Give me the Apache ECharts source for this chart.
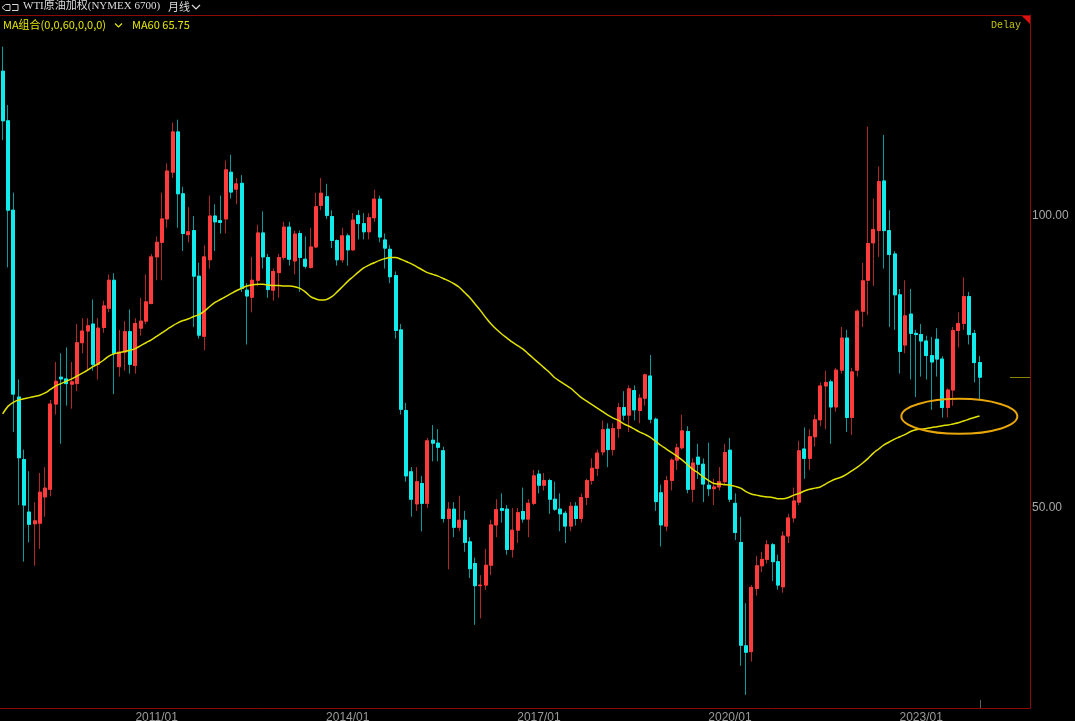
<!DOCTYPE html>
<html><head><meta charset="utf-8">
<script src="https://cdn.jsdelivr.net/npm/echarts@6/dist/echarts.min.js"></script>
<style>html,body{margin:0;padding:0;background:#000;overflow:hidden}#c{width:1075px;height:721px}</style>
</head><body><div id="c"></div>
<script>
// ---- category setup (monthly, first visible month 2008/08; empty slots to the right) ----
const startYear = 2008, startMonth = 8, totalSlots = 194;
const xTickLabels = ['2011/01','2014/01','2017/01','2020/01','2023/01'];
const yTickValues = [50, 100];

// ---- monthly OHLC, 2008/08 .. 2023/12 ----
const open = [
124.8,116.3,101.0,69.0,58.3,
49.3,47.3,47.4,51.9,53.2,67.8,72.4,72.1,71.2,71.3,78.3,80.3,
81.5,74.6,80.9,84.2,89.0,74.2,76.7,80.2,74.4,80.8,82.0,85.0,
93.0,95.5,99.5,107.5,114.4,103.8,96.8,97.5,89.7,79.4,92.5,100.0,
99.2,99.5,107.5,104.6,105.6,87.3,86.1,89.0,97.1,92.9,87.3,90.3,
92.9,98.1,92.3,97.0,92.6,91.2,94.7,101.8,103.3,99.9,95.8,92.5,
96.6,94.2,100.1,98.7,97.3,99.7,102.9,95.9,94.3,89.8,80.5,66.7,
56.2,50.7,54.2,50.8,61.6,61.1,59.8,48.2,49.8,46.7,47.9,44.2,
40.5,36.7,36.8,40.2,47.1,49.9,49.8,42.9,46.2,49.4,48.1,50.8,
55.8,53.9,54.7,51.5,49.8,49.1,46.9,50.3,48.2,51.8,54.7,56.8,
59.6,63.5,60.0,63.6,67.2,65.9,70.1,66.7,68.8,72.6,65.2,52.6,
46.9,54.7,58.2,60.3,63.1,53.2,58.7,57.5,53.9,53.3,53.6,54.5,
59.9,50.8,44.1,26.4,25.4,36.2,40.1,41.2,43.7,40.8,36.5,45.2,
48.3,51.0,60.1,58.5,62.2,65.1,70.9,71.6,67.3,73.6,79.1,65.5,
73.6,83.7,89.0,95.4,97.5,106.0,97.5,93.5,86.5,77.9,83.2,79.9,
79.7,78.6,76.1,78.9,75.5,67.2,70.2,80.4,81.6,86.2,79.9,74.9
];
const close = [
116.3,101.0,69.5,58.6,50.5,
47.2,47.8,52.7,53.4,67.8,71.7,72.1,71.3,71.6,78.3,80.3,81.2,
74.6,80.8,84.6,89.0,76.5,76.7,80.2,74.6,81.6,82.0,85.3,93.0,
95.5,99.5,107.7,114.4,103.8,97.0,97.3,89.7,79.6,93.0,100.0,99.0,
98.9,107.9,104.1,105.5,87.6,86.3,89.0,97.1,93.0,87.4,90.5,92.9,
98.1,92.6,96.9,92.9,91.4,94.7,101.6,103.9,100.1,95.8,92.5,96.6,
94.2,99.3,98.7,97.3,99.7,102.9,96.4,94.5,89.6,80.4,66.9,55.5,
51.5,54.5,50.8,61.5,61.1,60.4,48.2,49.8,46.7,47.9,44.1,39.6,
36.7,36.8,40.2,47.1,49.7,49.6,42.9,46.2,49.2,48.1,50.8,55.5,
53.9,54.7,51.5,49.8,49.0,46.9,50.3,48.2,51.8,54.7,56.8,59.4,
63.4,60.0,63.6,67.2,65.9,70.4,66.8,68.8,72.8,65.2,51.1,47.1,
54.7,58.2,60.3,63.2,53.2,57.7,57.5,54.1,53.3,53.6,54.5,59.5,
51.5,45.8,26.5,25.3,36.4,40.1,41.2,43.7,40.8,36.8,45.2,48.3,
51.2,59.8,58.5,62.2,65.1,70.9,71.5,67.3,73.6,79.1,65.5,73.3,
83.7,88.9,95.3,97.7,105.9,97.5,93.4,86.5,76.8,82.9,79.9,79.7,
78.6,76.1,75.0,75.5,67.2,70.2,80.4,81.6,86.2,79.7,74.9,72.4
];
const high = [
129,119,104,72,60,
56.3,51,56,57,68.5,75,76.5,77.5,75,81.5,82.5,82.5,
85.7,82.5,85.5,90,90.2,80.5,82,84,82.5,86,90,93.5,
96.5,104,109,116,116.5,105,101.5,100,92,95,103.5,102,
103.5,109.5,110.5,106.5,107,88.5,93,98.5,100.8,93.5,91,93.5,
99,99,97.5,97.5,96.5,98,104,106.5,105.5,101,96,98,
97,100.5,101,100.5,100.5,104.5,103.5,97,95,90.5,81.5,68,
57,57,55.5,62,64.2,63.5,60.5,51,51,52.1,49.5,45,
41.5,38.5,43,48,51.5,52.5,50.5,50,50,53.5,51.5,56.5,
56.5,56,55,54.5,52.5,49.5,51,51,52.5,55,58.5,60,
65,64.5,64.5,68,70,71,71,69.5,73,76.2,65.5,54,
55.5,58.5,61,66,64,58.5,61,58.5,61.2,55,57,61,
62,52.5,48.5,33.7,36.8,41.8,42.5,44.5,44,42,46,49,
53.5,61.5,63.8,63.5,66,71.5,73.5,72,74,81,80.5,74,
84,92,115.3,103,108.5,113.9,101,94,87.5,89,87.5,80.5,
81.5,79.5,79.3,80.8,76,70.5,81,83.5,89.5,87,80.5,76
];
const low = [
113,91.2,63,50.5,40.8,
44.1,40.1,43,48.5,52,66,61,67.5,67,70,76.5,73.5,
73.5,72,80,83.5,69.5,72.5,73.5,73,73,79.5,81.5,85,
89,89,98,106.5,98,94,95.5,81,79,77,91,94,
97,97,103,102,87,78,83.5,88,91,86,85.5,86,
92.5,91.5,90,87,91,91,94.5,101,99.5,94.5,91.5,92,
91.5,94,96,96,96,99,95.5,91,88.5,79,66,54.5,
48.5,49.5,46,50,58,58,47.5,39.5,45,46,42.5,38,
30,31.1,36,38.5,45,47.5,42,41.5,44,47.5,45,50.5,
52.5,53,49,49.5,46,44,46,47,47.5,50.5,54,55.5,
59,57,59,62,65,63,65,64.5,67.5,64.5,49.5,43.4,
46,53,56.5,60,52.5,51,55,51,52,50.5,53,54,
51,44.5,23,18,23.7,35,39,40.5,37.5,36,35.5,44,
47.5,50.5,55,56.5,60.5,64,63.5,61,66.5,73,63,62.5,
72.5,81,83,88,93,91,81,80.5,73,76.5,72,69,
72.5,72,66.8,72.5,65.5,65.5,67.5,77.5,80.5,78,71.5,68.5
];
// ---- MA60 as drawn ----
const ma60 = [
66.1,67.4,68.1,68.5,68.7,
68.9,69.1,69.3,69.7,70.3,70.9,71.3,71.7,72.1,72.6,73.1,73.6,
74.2,74.7,75.3,76.0,76.4,76.6,76.8,77.0,77.3,77.8,78.3,78.8,
79.4,80.0,80.6,81.2,81.7,82.1,82.4,82.8,83.1,83.7,84.5,85.2,
85.7,86.2,86.7,87.2,87.6,88.0,88.2,88.3,88.3,88.2,88.1,88.1,
88.0,88.0,87.9,87.6,87.0,86.2,85.8,85.6,85.7,86.2,87.0,87.9,
88.8,89.6,90.4,91.1,91.6,92.0,92.4,92.7,92.9,92.9,92.6,92.2,
91.8,91.3,90.8,90.3,90.0,89.7,89.3,88.9,88.4,87.8,86.9,86.0,
84.9,83.8,82.6,81.5,80.6,79.8,79.1,78.4,77.8,77.2,76.4,75.6,
74.8,74.0,73.2,72.3,71.7,71.1,70.5,69.7,68.9,68.3,67.7,67.1,
66.5,65.9,65.4,65.0,64.4,64.0,63.5,63.0,62.6,62.1,61.4,60.7,
60.1,59.5,58.9,58.2,57.4,56.6,56.0,55.3,54.7,54.2,54.1,54.0,
53.9,53.7,53.4,52.8,52.4,52.2,52.0,51.9,51.8,51.6,51.6,51.8,
52.2,52.5,52.9,53.2,53.4,53.6,54.1,54.6,55.0,55.3,55.8,56.4,
57.0,57.7,58.5,59.4,60.1,60.8,61.3,61.8,62.2,62.6,63.1,63.4,
63.5,63.6,63.8,63.9,64.1,64.2,64.4,64.6,64.9,65.2,65.5,65.75
];
const highlight = {month: '2023/08', price: 65.7};

// ---- build ----
const categories = [];
for (let i = 0; i < totalSlots; i++) {
  const t = startYear * 12 + (startMonth - 1) + i;
  categories.push(Math.floor(t / 12) + '/' + String(t % 12 + 1).padStart(2, '0'));
}
const fullK = open.map((o, i) => [o, close[i], low[i], high[i]]);
const bodyK = open.map((o, i) => [o, close[i], Math.min(o, close[i]), Math.max(o, close[i])]);

const RED = '#ff3b3b', CYAN = '#10ecec', WRED = '#b02828', WCYAN = '#0c9a9a', BORDER = '#8c0a0a';

const chart = echarts.init(document.getElementById('c'), null, {renderer: 'canvas'});
chart.setOption({
  backgroundColor: '#000',
  animation: false,
  grid: {left: 0, right: 45, top: 15, bottom: 13, containLabel: false, outerBoundsMode: 'none'},
  xAxis: [{
    type: 'category', data: categories, boundaryGap: true, position: 'bottom',
    axisLine: {show: true, lineStyle: {color: BORDER, width: 1}},
    axisTick: {show: false},
    axisLabel: {
      interval: (idx, val) => xTickLabels.indexOf(val) >= 0,
      color: '#9a9a9a', fontSize: 12, fontFamily: 'Liberation Sans, Arial, sans-serif', margin: 4
    },
    splitLine: {show: false}
  }, {
    type: 'category', data: categories, position: 'top',
    axisLine: {show: true, lineStyle: {color: BORDER, width: 1}},
    axisTick: {show: false}, axisLabel: {show: false}, splitLine: {show: false}
  }],
  yAxis: {
    type: 'value', position: 'right', min: 15.75, max: 134.42, scale: true,
    axisLine: {show: true, lineStyle: {color: BORDER, width: 1}},
    axisTick: {show: false},
    splitLine: {show: false},
    axisLabel: {
      customValues: yTickValues,
      formatter: v => v.toFixed(2),
      color: '#a8a8a8', fontSize: 12, fontFamily: 'Liberation Sans, Arial, sans-serif', margin: 2,
      padding: [4, 0, 0, 0]
    }
  },
  series: [{
    name: 'wick', type: 'candlestick', data: fullK, barWidth: 3.5, silent: true,
    itemStyle: {color: WRED, color0: WCYAN, borderColor: WRED, borderColor0: WCYAN, borderWidth: 1}
  }, {
    name: 'body', type: 'candlestick', data: bodyK, barWidth: 3.5, silent: true,
    itemStyle: {color: RED, color0: CYAN, borderColor: RED, borderColor0: CYAN, borderWidth: 1}
  }, {
    name: 'MA60', type: 'line', data: ma60, symbol: 'none', smooth: 0.4, silent: true,
    lineStyle: {color: '#e2e200', width: 1.5}, z: 5
  }]
});

const ex = chart.convertToPixel({xAxisIndex: 0}, highlight.month) + 1;
const ey = chart.convertToPixel({yAxisIndex: 0}, highlight.price);
const lastX = chart.convertToPixel({xAxisIndex: 0}, categories[close.length - 1]);
const lastY = chart.convertToPixel({yAxisIndex: 0}, close[close.length - 1]);
const plotRight = 1075 - 45, plotTop = 15, plotBottom = 721 - 13;

chart.setOption({graphic: [
  // link icon
  {type: 'polygon', shape: {points: [[2, 7.5], [5.5, 4.5], [10, 4.5], [10, 10.5], [5.5, 10.5]]}, style: {fill: 'none', stroke: '#d8d8d8', lineWidth: 1}},
  {type: 'polyline', shape: {points: [[12, 4.5], [18, 4.5], [18, 10.5], [12, 10.5]]}, style: {stroke: '#d8d8d8', lineWidth: 1, fill: 'none'}},
  {type: 'text', left: 23, top: 1, style: {text: 'WTI原油加权(NYMEX 6700)', fill: '#dcdcdc', font: '11px "Liberation Serif", "Noto Sans CJK SC", serif'}},
  {type: 'text', left: 168, top: 1, style: {text: '月线', fill: '#dcdcdc', font: '11px "Noto Sans CJK SC", sans-serif'}},
  {type: 'polyline', shape: {points: [[192, 5], [196, 9], [200, 5]]}, style: {stroke: '#dcdcdc', lineWidth: 1.2, fill: 'none'}},
  {type: 'text', left: 3, top: 19, style: {text: 'MA组合(0,0,60,0,0,0)', fill: '#e6e600', font: '11px "Noto Sans CJK SC", sans-serif'}},
  {type: 'polyline', shape: {points: [[115, 23.5], [118.5, 27], [122, 23.5]]}, style: {stroke: '#e6e600', lineWidth: 1.2, fill: 'none'}},
  {type: 'text', left: 132, top: 19, style: {text: 'MA60 ' + ma60[ma60.length - 1].toFixed(2), fill: '#e6e600', font: '11px "Noto Sans CJK SC", sans-serif'}},
  {type: 'text', left: 991, top: 20, style: {text: 'Delay', fill: '#c4c400', font: '10px "Liberation Mono", "DejaVu Sans Mono", monospace'}},
  {type: 'polygon', shape: {points: [[plotRight - 9, plotTop], [plotRight, plotTop], [plotRight, plotTop + 9]]}, style: {fill: '#e01010'}},
  // highlight ellipse
  {type: 'ellipse', shape: {cx: ex, cy: ey, rx: 58, ry: 17.5}, style: {fill: 'none', stroke: '#e8a60a', lineWidth: 2}, z: 10},
  // last price marker
  {type: 'line', shape: {x1: plotRight - 20, y1: Math.round(lastY) + 0.5, x2: plotRight, y2: Math.round(lastY) + 0.5}, style: {stroke: '#8a8400', lineWidth: 1}},
  {type: 'line', shape: {x1: Math.round(lastX) + 0.5, y1: plotBottom - 8, x2: Math.round(lastX) + 0.5, y2: plotBottom}, style: {stroke: '#606060', lineWidth: 1}}
]});
</script></body></html>
